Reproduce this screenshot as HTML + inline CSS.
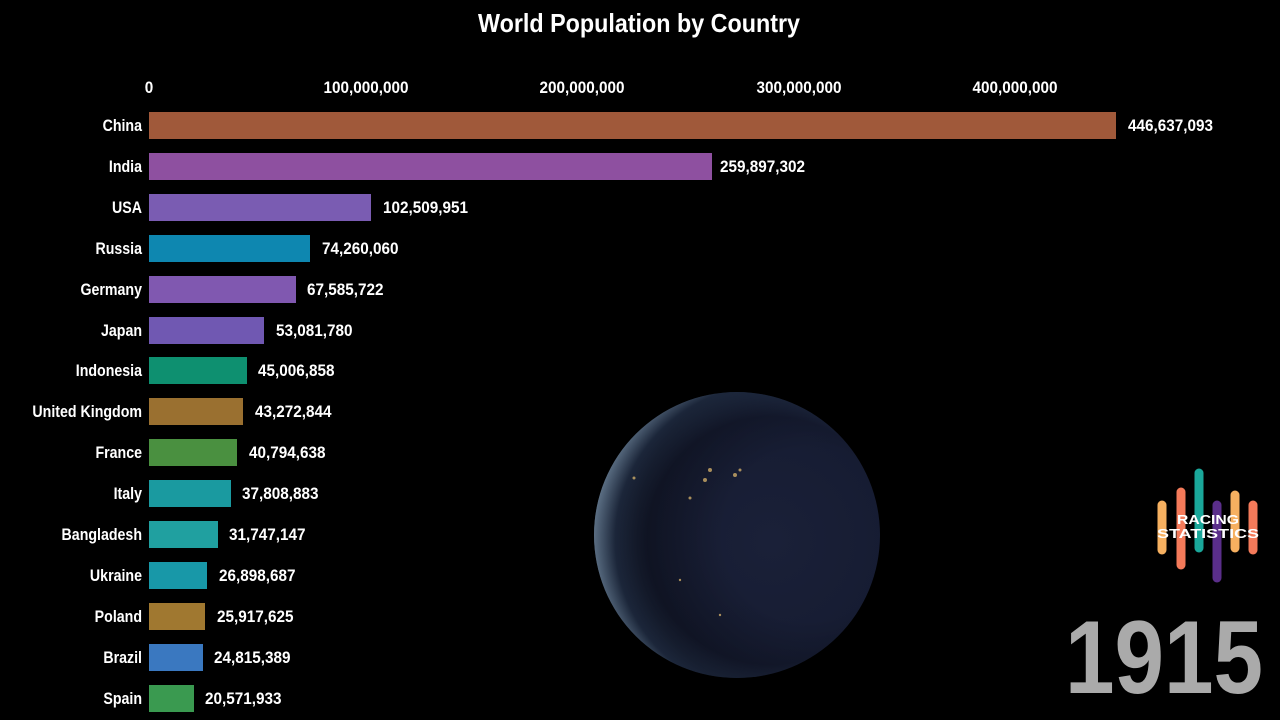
<!DOCTYPE html>
<html><head><meta charset="utf-8"><style>
html,body{margin:0;padding:0;background:#000;width:1280px;height:720px;overflow:hidden}
svg{display:block}
text{font-family:"Liberation Sans",sans-serif;font-weight:bold}
</style></head><body>
<svg width="1280" height="720" viewBox="0 0 1280 720" xmlns="http://www.w3.org/2000/svg">
<defs>
<radialGradient id="g" cx="0.62" cy="0.52" r="0.62">
<stop offset="0" stop-color="#1a2038"/>
<stop offset="0.7" stop-color="#161c32"/>
<stop offset="0.88" stop-color="#2a3a58"/>
<stop offset="1" stop-color="#8aa8c8"/>
</radialGradient>
<radialGradient id="sh" cx="0.75" cy="0.5" r="0.6">
<stop offset="0.5" stop-color="#000" stop-opacity="0"/>
<stop offset="1" stop-color="#000" stop-opacity="0.35"/>
</radialGradient>
</defs>
<rect width="1280" height="720" fill="#000"/>
<text x="478" y="32" fill="#fff" font-size="26" textLength="322" lengthAdjust="spacingAndGlyphs">World Population by Country</text>
<g fill="#fff" font-size="17" text-anchor="middle">
<text transform="translate(149,93) scale(0.9,1)">0</text>
<text transform="translate(366,93) scale(0.9,1)">100,000,000</text>
<text transform="translate(582,93) scale(0.9,1)">200,000,000</text>
<text transform="translate(799,93) scale(0.9,1)">300,000,000</text>
<text transform="translate(1015,93) scale(0.9,1)">400,000,000</text>
</g>
<circle cx="737" cy="535" r="143" fill="url(#g)"/>
<circle cx="737" cy="535" r="143" fill="url(#sh)"/>
<g fill="#e8c070" opacity="0.7">
<circle cx="710" cy="470" r="2"/><circle cx="705" cy="480" r="2"/><circle cx="690" cy="498" r="1.5"/><circle cx="735" cy="475" r="2"/><circle cx="740" cy="470" r="1.5"/><circle cx="634" cy="478" r="1.5"/><circle cx="680" cy="580" r="1.2"/><circle cx="720" cy="615" r="1.2"/>
</g>
<g font-size="17">
<g fill="#fff" text-anchor="end" transform="translate(142,0) scale(0.835,1)">
<text x="0" y="131">China</text><text x="0" y="172">India</text><text x="0" y="213">USA</text><text x="0" y="254">Russia</text><text x="0" y="295">Germany</text><text x="0" y="336">Japan</text><text x="0" y="376">Indonesia</text><text x="0" y="417">United Kingdom</text><text x="0" y="458">France</text><text x="0" y="499">Italy</text><text x="0" y="540">Bangladesh</text><text x="0" y="581">Ukraine</text><text x="0" y="622">Poland</text><text x="0" y="663">Brazil</text><text x="0" y="704">Spain</text>
</g>
<rect x="149" y="112" width="967" height="27" fill="#a0593a"/>
<rect x="149" y="153" width="563" height="27" fill="#8e50a0"/>
<rect x="149" y="194" width="222" height="27" fill="#7a5cb2"/>
<rect x="149" y="235" width="161" height="27" fill="#0e87b0"/>
<rect x="149" y="276" width="147" height="27" fill="#8058b0"/>
<rect x="149" y="317" width="115" height="27" fill="#7058b2"/>
<rect x="149" y="357" width="98" height="27" fill="#0e9070"/>
<rect x="149" y="398" width="94" height="27" fill="#9a7030"/>
<rect x="149" y="439" width="88" height="27" fill="#4a9040"/>
<rect x="149" y="480" width="82" height="27" fill="#1a9aa0"/>
<rect x="149" y="521" width="69" height="27" fill="#20a0a0"/>
<rect x="149" y="562" width="58" height="27" fill="#1898a8"/>
<rect x="149" y="603" width="56" height="27" fill="#a07830"/>
<rect x="149" y="644" width="54" height="27" fill="#3a78c0"/>
<rect x="149" y="685" width="45" height="27" fill="#3a9a50"/>
<g fill="#fff">
<text transform="translate(1128,131) scale(0.9,1)">446,637,093</text>
<text transform="translate(720,172) scale(0.9,1)">259,897,302</text>
<text transform="translate(383,213) scale(0.9,1)">102,509,951</text>
<text transform="translate(322,254) scale(0.9,1)">74,260,060</text>
<text transform="translate(307,295) scale(0.9,1)">67,585,722</text>
<text transform="translate(276,336) scale(0.9,1)">53,081,780</text>
<text transform="translate(258,376) scale(0.9,1)">45,006,858</text>
<text transform="translate(255,417) scale(0.9,1)">43,272,844</text>
<text transform="translate(249,458) scale(0.9,1)">40,794,638</text>
<text transform="translate(242,499) scale(0.9,1)">37,808,883</text>
<text transform="translate(229,540) scale(0.9,1)">31,747,147</text>
<text transform="translate(219,581) scale(0.9,1)">26,898,687</text>
<text transform="translate(217,622) scale(0.9,1)">25,917,625</text>
<text transform="translate(214,663) scale(0.9,1)">24,815,389</text>
<text transform="translate(205,704) scale(0.9,1)">20,571,933</text>
</g>
</g>
<g stroke-linecap="round" stroke-width="9">
<line x1="1162" y1="505" x2="1162" y2="550" stroke="#f6b060"/>
<line x1="1181" y1="492" x2="1181" y2="565" stroke="#f47a5a"/>
<line x1="1199" y1="473" x2="1199" y2="548" stroke="#1aa79a"/>
<line x1="1217" y1="505" x2="1217" y2="578" stroke="#5a2e8a"/>
<line x1="1235" y1="495" x2="1235" y2="548" stroke="#f6b060"/>
<line x1="1253" y1="505" x2="1253" y2="550" stroke="#f47a5a"/>
</g>
<text x="1208" y="524" fill="#fff" font-size="13" text-anchor="middle" textLength="62" lengthAdjust="spacingAndGlyphs">RACING</text>
<text x="1208" y="538" fill="#fff" font-size="13" text-anchor="middle" textLength="102" lengthAdjust="spacingAndGlyphs">STATISTICS</text>
<text x="1065" y="693" fill="#aaa" font-size="104" textLength="198" lengthAdjust="spacingAndGlyphs">1915</text>
</svg>
</body></html>
